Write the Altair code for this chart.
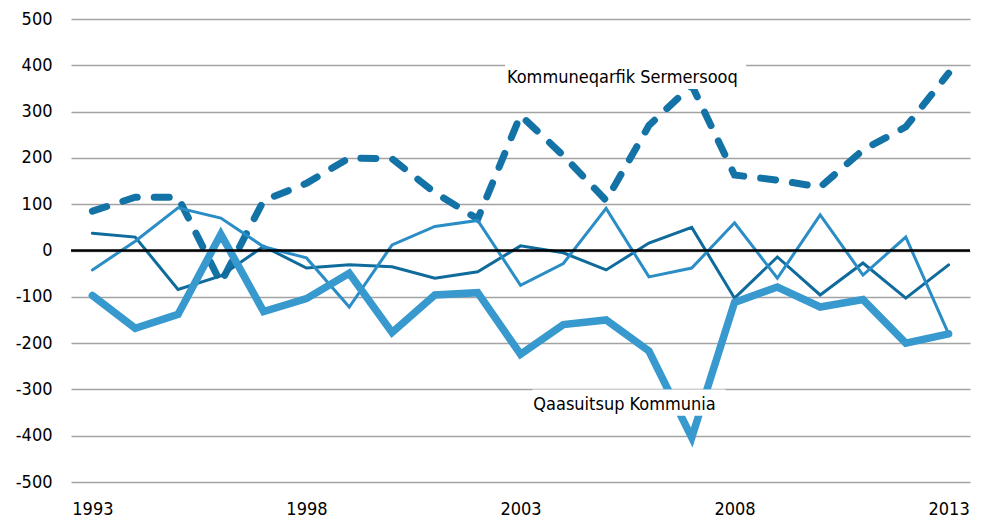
import altair as alt
import pandas as pd

years = list(range(1993, 2014))

sermersooq = [85, 115, 115, -70, 108, 145, 200, 198, 125, 68, 292, 205, 108, 270, 357,
              163, 152, 137, 217, 267, 383]
qaasuitsup = [-97, -168, -138, 35, -132, -104, -49, -177, -96, -91, -224, -160, -150, -217, -404,
              -112, -79, -122, -106, -200, -180]
series_a = [37, 29, -84, -55, 9, -38, -31, -35, -60, -46, 10, -5, -42, 16, 50,
            -103, -14, -96, -27, -103, -31]
series_b = [-42, 20, 92, 70, 8, -16, -122, 12, 52, 65, -75, -28, 91, -57, -38,
            60, -60, 77, -53, 29, -180]

y_ticks = [-500, -400, -300, -200, -100, 0, 100, 200, 300, 400, 500]
x_ticks = [1993, 1998, 2003, 2008, 2013]

label_text = ["Kommuneqarfik Sermersooq", "Qaasuitsup Kommunia"]
label_x = [2005.38, 2005.43]
label_y = [373, -334]
box_x1 = [2002.64, 2003.28]
box_x2 = [2008.27, 2007.79]
box_y1 = [406, -300]
box_y2 = [349, -357]

FONT = "DejaVu Sans Condensed, DejaVu Sans, sans-serif"

df = pd.DataFrame({
    "year": years * 4,
    "value": series_a + series_b + sermersooq + qaasuitsup,
    "series": ["A"] * 21 + ["B"] * 21 + ["Sermersooq"] * 21 + ["Qaasuitsup"] * 21,
})

xscale = alt.Scale(domain=[1992.5, 2013.5], nice=False, zero=False)
yscale = alt.Scale(domain=[-500, 500], nice=False)

xenc = alt.X("year:Q", scale=xscale, axis=alt.Axis(
    values=x_ticks, format="d", grid=False, domain=False, ticks=False,
    labelFont=FONT, labelFontSize=18, labelColor="#000000", labelPadding=18,
    title=None, labelFlush=False))
yenc = alt.Y("value:Q", scale=yscale, axis=alt.Axis(
    values=y_ticks, grid=True, gridColor="#a3a3a3", gridWidth=1.6,
    domain=False, ticks=False, labelFont=FONT, labelFontSize=18,
    labelExpr="'' + datum.value",
    labelColor="#000000", labelPadding=19, title=None))

base = alt.Chart(df)

def line(name, color, width, dash=None):
    kw = dict(color=color, strokeWidth=width, strokeCap="round", strokeJoin="miter")
    if dash:
        kw["strokeDash"] = dash
    return base.transform_filter(alt.datum.series == name).mark_line(**kw).encode(
        x=xenc, y=yenc)

zero = alt.Chart(pd.DataFrame({"v": [0]})).mark_rule(color="#000000", strokeWidth=2.5).encode(
    y=alt.Y("v:Q", scale=yscale))

lab = pd.DataFrame({"t": label_text, "x": label_x, "y": label_y,
                    "x1": box_x1, "x2": box_x2, "y1": box_y1, "y2": box_y2})

boxes = alt.Chart(lab).mark_rect(color="#ffffff").encode(
    x=alt.X("x1:Q", scale=xscale), x2="x2:Q",
    y=alt.Y("y1:Q", scale=yscale), y2="y2:Q")
texts = alt.Chart(lab).mark_text(font=FONT, fontSize=18, color="#000000",
                                 align="center", baseline="middle").encode(
    x=alt.X("x:Q", scale=xscale), y=alt.Y("y:Q", scale=yscale), text="t:N")

chart = alt.layer(
    line("Sermersooq", "#1473a6", 7, [15, 17]),
    line("A", "#0f6b9b", 3),
    line("B", "#2b8dc5", 3),
    line("Qaasuitsup", "#3799cd", 7.5),
    zero,
    boxes,
    texts,
).properties(
    width=899, height=463,
    autosize=alt.AutoSizeParams(type="none"),
    padding={"left": 63, "top": 11, "right": 5, "bottom": 40},
).configure_view(stroke=None)

chart.save("out.html", embed_options={"renderer": "svg", "actions": False})
